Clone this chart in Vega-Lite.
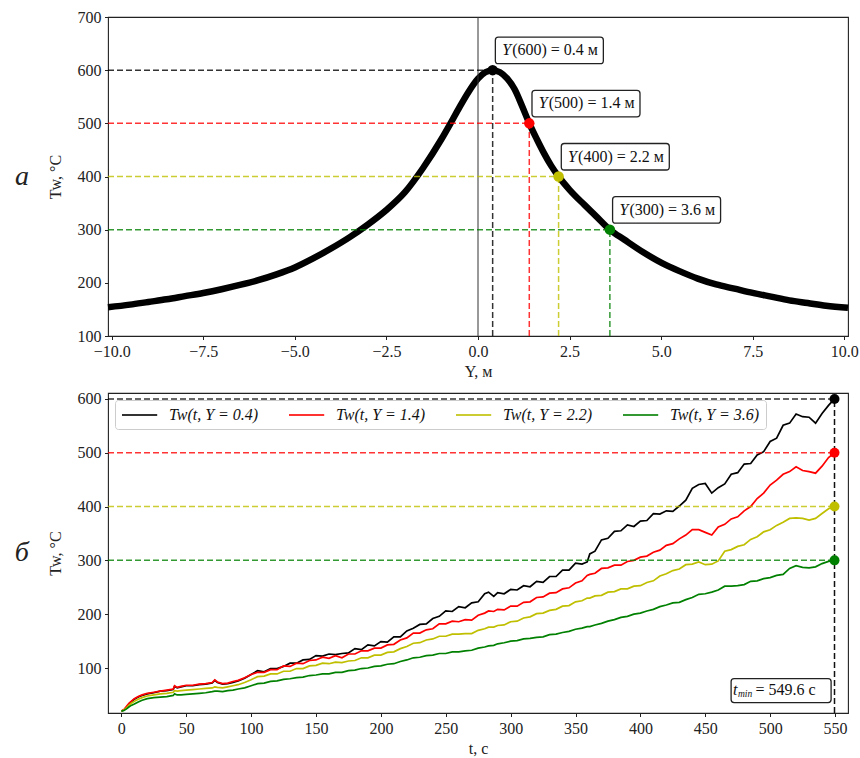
{
  "$schema": "https://vega.github.io/schema/vega-lite/v6.json",
  "background": "white",
  "padding": {"left": 14, "top": 8, "right": 0, "bottom": 0},
  "config": {
    "font": "Liberation Serif",
    "view": {"stroke": "#222", "strokeWidth": 1.1},
    "axis": {"grid": false, "domain": false, "tickColor": "#222", "tickSize": 3.5, "tickWidth": 1,
      "labelFont": "Liberation Serif", "labelFontSize": 16, "labelColor": "#222", "labelPadding": 3.5,
      "titleFont": "Liberation Serif", "titleFontSize": 16, "titleFontWeight": "normal", "titleColor": "#222"},
    "concat": {"spacing": 10}
  },
  "datasets": {
    "curve": [
      {"Y": -10.1, "T": 154}, {"Y": -9.5, "T": 159}, {"Y": -9, "T": 164}, {"Y": -8.5, "T": 169}, {"Y": -8, "T": 175},
      {"Y": -7.5, "T": 181}, {"Y": -7, "T": 188}, {"Y": -6.5, "T": 196}, {"Y": -6, "T": 205}, {"Y": -5.5, "T": 216},
      {"Y": -5, "T": 229}, {"Y": -4.5, "T": 246}, {"Y": -4, "T": 265}, {"Y": -3.5, "T": 286}, {"Y": -3, "T": 310},
      {"Y": -2.5, "T": 337}, {"Y": -2, "T": 370}, {"Y": -1.5, "T": 416}, {"Y": -1, "T": 470}, {"Y": -0.75, "T": 500},
      {"Y": -0.5, "T": 531}, {"Y": -0.25, "T": 560}, {"Y": 0, "T": 584}, {"Y": 0.2, "T": 596}, {"Y": 0.4, "T": 600},
      {"Y": 0.6, "T": 596}, {"Y": 0.8, "T": 584}, {"Y": 1.0, "T": 564}, {"Y": 1.2, "T": 533}, {"Y": 1.4, "T": 500},
      {"Y": 1.6, "T": 471}, {"Y": 1.8, "T": 444}, {"Y": 2.0, "T": 420}, {"Y": 2.2, "T": 400}, {"Y": 2.5, "T": 375},
      {"Y": 2.9, "T": 347}, {"Y": 3.2, "T": 327}, {"Y": 3.6, "T": 300}, {"Y": 4, "T": 281}, {"Y": 4.5, "T": 258},
      {"Y": 5, "T": 238}, {"Y": 5.5, "T": 222}, {"Y": 6, "T": 208}, {"Y": 6.5, "T": 197}, {"Y": 7, "T": 189},
      {"Y": 7.5, "T": 181}, {"Y": 8, "T": 174}, {"Y": 8.5, "T": 167}, {"Y": 9, "T": 162}, {"Y": 9.5, "T": 157},
      {"Y": 10.1, "T": 153}
    ],
    "ann": [
      {"s": "Y04", "Y": 0.4, "T": 600, "lab": "(600) = 0.4 м"},
      {"s": "Y14", "Y": 1.4, "T": 500, "lab": "(500) = 1.4 м"},
      {"s": "Y22", "Y": 2.2, "T": 400, "lab": "(400) = 2.2 м"},
      {"s": "Y36", "Y": 3.6, "T": 300, "lab": "(300) = 3.6 м"}
    ],
    "series": [
      {"t": 0, "Y04": 20, "Y14": 20, "Y22": 20, "Y36": 20},
      {"t": 2, "Y04": 22, "Y14": 23, "Y22": 22, "Y36": 21},
      {"t": 4, "Y04": 27, "Y14": 29, "Y22": 26, "Y36": 24},
      {"t": 6, "Y04": 33, "Y14": 35, "Y22": 31, "Y36": 28},
      {"t": 8, "Y04": 38, "Y14": 39, "Y22": 35, "Y36": 31},
      {"t": 10, "Y04": 42, "Y14": 43, "Y22": 38, "Y36": 33},
      {"t": 13, "Y04": 46, "Y14": 47, "Y22": 42, "Y36": 37},
      {"t": 16, "Y04": 49, "Y14": 50, "Y22": 45, "Y36": 40},
      {"t": 20, "Y04": 52, "Y14": 53, "Y22": 48, "Y36": 43},
      {"t": 25, "Y04": 54, "Y14": 55, "Y22": 50, "Y36": 45},
      {"t": 30, "Y04": 57, "Y14": 57, "Y22": 52, "Y36": 46},
      {"t": 35, "Y04": 58, "Y14": 59, "Y22": 53, "Y36": 47},
      {"t": 40, "Y04": 60, "Y14": 61, "Y22": 55, "Y36": 49},
      {"t": 41, "Y04": 66, "Y14": 67, "Y22": 58, "Y36": 52},
      {"t": 43, "Y04": 63, "Y14": 64, "Y22": 57, "Y36": 50},
      {"t": 46, "Y04": 65, "Y14": 66, "Y22": 58, "Y36": 50},
      {"t": 50, "Y04": 67, "Y14": 68, "Y22": 59, "Y36": 51},
      {"t": 55, "Y04": 67, "Y14": 68, "Y22": 60, "Y36": 52},
      {"t": 60, "Y04": 69, "Y14": 70, "Y22": 61, "Y36": 53},
      {"t": 65, "Y04": 70, "Y14": 71, "Y22": 62, "Y36": 54},
      {"t": 70, "Y04": 72, "Y14": 73, "Y22": 63, "Y36": 56},
      {"t": 72, "Y04": 77, "Y14": 78, "Y22": 65, "Y36": 57},
      {"t": 74, "Y04": 73, "Y14": 74, "Y22": 64, "Y36": 57},
      {"t": 78, "Y04": 70, "Y14": 71, "Y22": 63, "Y36": 56},
      {"t": 82, "Y04": 71, "Y14": 72, "Y22": 65, "Y36": 58},
      {"t": 86, "Y04": 73, "Y14": 75, "Y22": 67, "Y36": 59},
      {"t": 90, "Y04": 76, "Y14": 77, "Y22": 69, "Y36": 61},
      {"t": 95, "Y04": 81, "Y14": 82, "Y22": 73, "Y36": 63},
      {"t": 100, "Y04": 88, "Y14": 88, "Y22": 78, "Y36": 67},
      {"t": 105, "Y04": 95, "Y14": 92, "Y22": 84, "Y36": 71},
      {"t": 110, "Y04": 93, "Y14": 92, "Y22": 85, "Y36": 72},
      {"t": 115, "Y04": 99, "Y14": 97, "Y22": 89, "Y36": 75},
      {"t": 120, "Y04": 99, "Y14": 97, "Y22": 89, "Y36": 76},
      {"t": 125, "Y04": 103, "Y14": 104, "Y22": 94, "Y36": 79},
      {"t": 130, "Y04": 109, "Y14": 103, "Y22": 94, "Y36": 80},
      {"t": 135, "Y04": 109, "Y14": 109, "Y22": 99, "Y36": 82},
      {"t": 140, "Y04": 115, "Y14": 108, "Y22": 99, "Y36": 83},
      {"t": 145, "Y04": 116, "Y14": 114, "Y22": 104, "Y36": 86},
      {"t": 150, "Y04": 123, "Y14": 115, "Y22": 105, "Y36": 87},
      {"t": 155, "Y04": 122, "Y14": 120, "Y22": 109, "Y36": 89},
      {"t": 160, "Y04": 126, "Y14": 118, "Y22": 108, "Y36": 89},
      {"t": 165, "Y04": 125, "Y14": 123, "Y22": 111, "Y36": 92},
      {"t": 170, "Y04": 127, "Y14": 119, "Y22": 110, "Y36": 92},
      {"t": 175, "Y04": 128, "Y14": 126, "Y22": 113, "Y36": 95},
      {"t": 180, "Y04": 136, "Y14": 126, "Y22": 114, "Y36": 96},
      {"t": 185, "Y04": 134, "Y14": 132, "Y22": 119, "Y36": 99},
      {"t": 190, "Y04": 143, "Y14": 132, "Y22": 119, "Y36": 100},
      {"t": 195, "Y04": 141, "Y14": 137, "Y22": 124, "Y36": 103},
      {"t": 200, "Y04": 149, "Y14": 137, "Y22": 124, "Y36": 104},
      {"t": 205, "Y04": 148, "Y14": 143, "Y22": 129, "Y36": 107},
      {"t": 210, "Y04": 158, "Y14": 144, "Y22": 130, "Y36": 108},
      {"t": 215, "Y04": 158, "Y14": 152, "Y22": 136, "Y36": 112},
      {"t": 220, "Y04": 169, "Y14": 156, "Y22": 140, "Y36": 115},
      {"t": 225, "Y04": 174, "Y14": 165, "Y22": 146, "Y36": 119},
      {"t": 230, "Y04": 181, "Y14": 165, "Y22": 147, "Y36": 120},
      {"t": 235, "Y04": 182, "Y14": 171, "Y22": 152, "Y36": 123},
      {"t": 240, "Y04": 192, "Y14": 173, "Y22": 154, "Y36": 124},
      {"t": 245, "Y04": 196, "Y14": 182, "Y22": 159, "Y36": 127},
      {"t": 250, "Y04": 206, "Y14": 182, "Y22": 159, "Y36": 127},
      {"t": 255, "Y04": 205, "Y14": 187, "Y22": 163, "Y36": 130},
      {"t": 260, "Y04": 214, "Y14": 186, "Y22": 163, "Y36": 130},
      {"t": 265, "Y04": 212, "Y14": 190, "Y22": 164, "Y36": 132},
      {"t": 270, "Y04": 221, "Y14": 189, "Y22": 164, "Y36": 133},
      {"t": 275, "Y04": 223, "Y14": 198, "Y22": 170, "Y36": 137},
      {"t": 280, "Y04": 238, "Y14": 202, "Y22": 173, "Y36": 139},
      {"t": 283, "Y04": 241, "Y14": 206, "Y22": 176, "Y36": 141},
      {"t": 287, "Y04": 233, "Y14": 205, "Y22": 176, "Y36": 142},
      {"t": 290, "Y04": 240, "Y14": 209, "Y22": 179, "Y36": 145},
      {"t": 295, "Y04": 238, "Y14": 208, "Y22": 180, "Y36": 147},
      {"t": 300, "Y04": 246, "Y14": 215, "Y22": 186, "Y36": 150},
      {"t": 305, "Y04": 245, "Y14": 215, "Y22": 187, "Y36": 151},
      {"t": 310, "Y04": 253, "Y14": 222, "Y22": 193, "Y36": 154},
      {"t": 315, "Y04": 251, "Y14": 223, "Y22": 195, "Y36": 155},
      {"t": 320, "Y04": 261, "Y14": 231, "Y22": 201, "Y36": 157},
      {"t": 325, "Y04": 259, "Y14": 232, "Y22": 202, "Y36": 158},
      {"t": 330, "Y04": 270, "Y14": 239, "Y22": 207, "Y36": 162},
      {"t": 335, "Y04": 270, "Y14": 240, "Y22": 209, "Y36": 163},
      {"t": 340, "Y04": 282, "Y14": 247, "Y22": 215, "Y36": 166},
      {"t": 345, "Y04": 282, "Y14": 249, "Y22": 216, "Y36": 168},
      {"t": 350, "Y04": 295, "Y14": 258, "Y22": 223, "Y36": 172},
      {"t": 355, "Y04": 293, "Y14": 262, "Y22": 225, "Y36": 174},
      {"t": 359, "Y04": 297, "Y14": 272, "Y22": 230, "Y36": 177},
      {"t": 361, "Y04": 312, "Y14": 274, "Y22": 230, "Y36": 177},
      {"t": 365, "Y04": 317, "Y14": 276, "Y22": 234, "Y36": 180},
      {"t": 370, "Y04": 338, "Y14": 285, "Y22": 235, "Y36": 183},
      {"t": 375, "Y04": 341, "Y14": 286, "Y22": 241, "Y36": 187},
      {"t": 380, "Y04": 354, "Y14": 291, "Y22": 242, "Y36": 190},
      {"t": 385, "Y04": 355, "Y14": 291, "Y22": 247, "Y36": 194},
      {"t": 390, "Y04": 366, "Y14": 298, "Y22": 247, "Y36": 196},
      {"t": 395, "Y04": 363, "Y14": 300, "Y22": 252, "Y36": 200},
      {"t": 400, "Y04": 373, "Y14": 306, "Y22": 253, "Y36": 202},
      {"t": 405, "Y04": 374, "Y14": 308, "Y22": 259, "Y36": 206},
      {"t": 410, "Y04": 387, "Y14": 315, "Y22": 262, "Y36": 209},
      {"t": 415, "Y04": 386, "Y14": 319, "Y22": 271, "Y36": 214},
      {"t": 420, "Y04": 392, "Y14": 328, "Y22": 275, "Y36": 217},
      {"t": 425, "Y04": 391, "Y14": 331, "Y22": 281, "Y36": 221},
      {"t": 430, "Y04": 401, "Y14": 340, "Y22": 284, "Y36": 222},
      {"t": 435, "Y04": 412, "Y14": 347, "Y22": 292, "Y36": 227},
      {"t": 440, "Y04": 434, "Y14": 357, "Y22": 293, "Y36": 231},
      {"t": 445, "Y04": 441, "Y14": 357, "Y22": 297, "Y36": 237},
      {"t": 450, "Y04": 443, "Y14": 352, "Y22": 292, "Y36": 238},
      {"t": 455, "Y04": 425, "Y14": 347, "Y22": 293, "Y36": 241},
      {"t": 460, "Y04": 435, "Y14": 362, "Y22": 299, "Y36": 245},
      {"t": 465, "Y04": 442, "Y14": 367, "Y22": 317, "Y36": 252},
      {"t": 470, "Y04": 460, "Y14": 377, "Y22": 320, "Y36": 252},
      {"t": 475, "Y04": 463, "Y14": 381, "Y22": 326, "Y36": 253},
      {"t": 480, "Y04": 479, "Y14": 392, "Y22": 329, "Y36": 255},
      {"t": 485, "Y04": 480, "Y14": 400, "Y22": 339, "Y36": 261},
      {"t": 490, "Y04": 496, "Y14": 415, "Y22": 344, "Y36": 262},
      {"t": 495, "Y04": 502, "Y14": 425, "Y22": 353, "Y36": 266},
      {"t": 500, "Y04": 521, "Y14": 440, "Y22": 357, "Y36": 268},
      {"t": 505, "Y04": 527, "Y14": 449, "Y22": 365, "Y36": 272},
      {"t": 510, "Y04": 551, "Y14": 460, "Y22": 371, "Y36": 274},
      {"t": 515, "Y04": 555, "Y14": 465, "Y22": 378, "Y36": 285},
      {"t": 520, "Y04": 572, "Y14": 474, "Y22": 379, "Y36": 290},
      {"t": 525, "Y04": 567, "Y14": 467, "Y22": 378, "Y36": 287},
      {"t": 530, "Y04": 566, "Y14": 465, "Y22": 375, "Y36": 286},
      {"t": 535, "Y04": 555, "Y14": 462, "Y22": 378, "Y36": 288},
      {"t": 540, "Y04": 573, "Y14": 475, "Y22": 387, "Y36": 294},
      {"t": 545, "Y04": 588, "Y14": 491, "Y22": 396, "Y36": 298},
      {"t": 549.6, "Y04": 600, "Y14": 500, "Y22": 400, "Y36": 300}
    ],
    "lev": [
      {"s": "Y04", "T": 600, "t": 549.6}, {"s": "Y14", "T": 500, "t": 549.6}, {"s": "Y22", "T": 400, "t": 549.6}, {"s": "Y36", "T": 300, "t": 549.6}
    ],
    "tmin": [{"t": 549.6, "T": 59}]
  },
  "resolve": {"scale": {"color": "independent", "x": "independent", "y": "independent"}},
  "vconcat": [
    {
      "width": 740,
      "height": 319,
      "title": {"text": "а", "orient": "left", "angle": 0, "anchor": "middle", "align": "right", "baseline": "middle",
        "fontSize": 28, "fontStyle": "italic", "fontWeight": "normal", "font": "Liberation Serif", "color": "#222", "offset": 4},
      "layer": [
        {
          "data": {"name": "curve"},
          "mark": {"type": "line", "color": "black", "strokeWidth": 6.5, "interpolate": "monotone"},
          "encoding": {
            "x": {"field": "Y", "type": "quantitative",
              "scale": {"domain": [-10.1, 10.1], "nice": false, "zero": false},
              "axis": {"values": [-10, -7.5, -5, -2.5, 0, 2.5, 5, 7.5, 10], "format": ".1f", "title": "Y, м", "titlePadding": 4}},
            "y": {"field": "T", "type": "quantitative",
              "scale": {"domain": [100, 700], "nice": false, "zero": false},
              "axis": {"values": [100, 200, 300, 400, 500, 600, 700], "title": "Tw, °C", "titlePadding": 14}}
          }
        },
        {
          "data": {"values": [{"Y": 0}]},
          "mark": {"type": "rule", "color": "#333", "strokeWidth": 1},
          "encoding": {"x": {"field": "Y", "type": "quantitative"}}
        },
        {
          "data": {"name": "ann"},
          "transform": [{"calculate": "-10.1", "as": "Y0"}],
          "mark": {"type": "rule", "strokeDash": [6, 3], "strokeWidth": 1.5, "opacity": 0.8},
          "encoding": {
            "x": {"field": "Y0", "type": "quantitative"}, "x2": {"field": "Y"},
            "y": {"field": "T", "type": "quantitative"},
            "color": {"field": "s", "type": "nominal", "legend": null,
              "scale": {"domain": ["Y04", "Y14", "Y22", "Y36"], "range": ["#000000", "#ff0000", "#bfbf00", "#008000"]}}
          }
        },
        {
          "data": {"name": "ann"},
          "transform": [{"calculate": "100", "as": "T0"}],
          "mark": {"type": "rule", "strokeDash": [6, 3], "strokeWidth": 1.5, "opacity": 0.8},
          "encoding": {
            "x": {"field": "Y", "type": "quantitative"},
            "y": {"field": "T0", "type": "quantitative"}, "y2": {"field": "T"},
            "color": {"field": "s", "type": "nominal", "legend": null}
          }
        },
        {
          "data": {"name": "ann"},
          "mark": {"type": "point", "filled": true, "size": 110, "opacity": 1},
          "encoding": {
            "x": {"field": "Y", "type": "quantitative"},
            "y": {"field": "T", "type": "quantitative"},
            "color": {"field": "s", "type": "nominal", "legend": null}
          }
        },
        {
          "data": {"name": "ann"},
          "mark": {"type": "point", "size": 400, "opacity": 1, "fill": "white", "fillOpacity": 1, "stroke": "#222", "strokeWidth": 1.3,
            "shape": "M0.57,-3.3 L10.77,-3.3 Q11.07,-3.3 11.07,-3.0 L11.07,-0.95 Q11.07,-0.65 10.77,-0.65 L0.57,-0.65 Q0.27,-0.65 0.27,-0.95 L0.27,-3.0 Q0.27,-3.3 0.57,-3.3 Z"},
          "encoding": {
            "x": {"field": "Y", "type": "quantitative"},
            "y": {"field": "T", "type": "quantitative"}
          }
        },
        {
          "data": {"name": "ann"},
          "mark": {"type": "text", "text": "Y", "font": "Liberation Serif", "fontSize": 16, "fontStyle": "italic", "color": "#111",
            "align": "left", "baseline": "middle", "dx": 9.5, "dy": -20},
          "encoding": {
            "x": {"field": "Y", "type": "quantitative"},
            "y": {"field": "T", "type": "quantitative"}
          }
        },
        {
          "data": {"name": "ann"},
          "mark": {"type": "text", "font": "Liberation Serif", "fontSize": 16, "color": "#111",
            "align": "left", "baseline": "middle", "dx": 19.5, "dy": -20},
          "encoding": {
            "x": {"field": "Y", "type": "quantitative"},
            "y": {"field": "T", "type": "quantitative"},
            "text": {"field": "lab", "type": "nominal"}
          }
        }
      ]
    },
    {
      "width": 740,
      "height": 320,
      "title": {"text": "б", "orient": "left", "angle": 0, "anchor": "middle", "align": "right", "baseline": "middle",
        "fontSize": 28, "fontStyle": "italic", "fontWeight": "normal", "font": "Liberation Serif", "color": "#222", "offset": 4},
      "layer": [
        {
          "data": {"name": "series"},
          "transform": [{"fold": ["Y04", "Y14", "Y22", "Y36"], "as": ["s", "T"]}],
          "mark": {"type": "line", "strokeWidth": 1.7},
          "encoding": {
            "x": {"field": "t", "type": "quantitative",
              "scale": {"domain": [-10.3, 560], "nice": false, "zero": false},
              "axis": {"values": [0, 50, 100, 150, 200, 250, 300, 350, 400, 450, 500, 550], "title": "t, с", "titlePadding": 4}},
            "y": {"field": "T", "type": "quantitative",
              "scale": {"domain": [16.4, 611], "nice": false, "zero": false},
              "axis": {"values": [100, 200, 300, 400, 500, 600], "title": "Tw, °C", "titlePadding": 14}},
            "color": {"field": "s", "type": "nominal",
              "scale": {"domain": ["Y04", "Y14", "Y22", "Y36"], "range": ["#000000", "#ff0000", "#bfbf00", "#008000"]},
              "legend": {"orient": "top-left", "offset": 6.5, "direction": "horizontal", "columns": 4, "title": null,
                "symbolType": "M-1,0L3.4,0", "symbolSize": 256, "symbolStrokeWidth": 2, "symbolOpacity": 1,
                "labelFont": "Liberation Serif", "labelFontSize": 16, "labelFontStyle": "italic", "labelColor": "#111",
                "labelOffset": 30, "columnPadding": 26, "padding": 6, "fillColor": "white", "strokeColor": "#cccccc", "cornerRadius": 3,
                "labelExpr": "datum.label == 'Y04' ? 'Tw(t, Y = 0.4)' : datum.label == 'Y14' ? 'Tw(t, Y = 1.4)' : datum.label == 'Y22' ? 'Tw(t, Y = 2.2)' : 'Tw(t, Y = 3.6)'"}}
          }
        },
        {
          "data": {"name": "lev"},
          "transform": [{"calculate": "-10.3", "as": "t0"}],
          "mark": {"type": "rule", "strokeDash": [6, 3], "strokeWidth": 1.5, "opacity": 0.8},
          "encoding": {
            "x": {"field": "t0", "type": "quantitative"}, "x2": {"field": "t"},
            "y": {"field": "T", "type": "quantitative"},
            "color": {"field": "s", "type": "nominal"}
          }
        },
        {
          "data": {"values": [{"t": 549.6, "T": 600, "T0": 16.4}]},
          "mark": {"type": "rule", "strokeDash": [6, 3], "strokeWidth": 1.5, "color": "#111"},
          "encoding": {"x": {"field": "t", "type": "quantitative"}, "y": {"field": "T0", "type": "quantitative"}, "y2": {"field": "T"}}
        },
        {
          "data": {"name": "lev"},
          "mark": {"type": "point", "filled": true, "size": 100, "opacity": 1},
          "encoding": {
            "x": {"field": "t", "type": "quantitative"},
            "y": {"field": "T", "type": "quantitative"},
            "color": {"field": "s", "type": "nominal"}
          }
        },
        {
          "data": {"name": "tmin"},
          "mark": {"type": "point", "size": 400, "opacity": 1, "fill": "white", "fillOpacity": 1, "stroke": "#222", "strokeWidth": 1.3,
            "shape": "M-10.04,-1.15 L-0.64,-1.15 Q-0.34,-1.15 -0.34,-0.85 L-0.34,0.95 Q-0.34,1.25 -0.64,1.25 L-10.04,1.25 Q-10.34,1.25 -10.34,0.95 L-10.34,-0.85 Q-10.34,-1.15 -10.04,-1.15 Z"},
          "encoding": {"x": {"field": "t", "type": "quantitative"}, "y": {"field": "T", "type": "quantitative"}}
        },
        {
          "data": {"name": "tmin"},
          "mark": {"type": "text", "text": "t", "font": "Liberation Serif", "fontSize": 16, "fontStyle": "italic", "color": "#111",
            "align": "left", "baseline": "middle", "dx": -101.5, "dy": 0},
          "encoding": {"x": {"field": "t", "type": "quantitative"}, "y": {"field": "T", "type": "quantitative"}}
        },
        {
          "data": {"name": "tmin"},
          "mark": {"type": "text", "text": "min", "font": "Liberation Serif", "fontSize": 9.5, "fontStyle": "italic", "color": "#111",
            "align": "left", "baseline": "middle", "dx": -96.6, "dy": 4},
          "encoding": {"x": {"field": "t", "type": "quantitative"}, "y": {"field": "T", "type": "quantitative"}}
        },
        {
          "data": {"name": "tmin"},
          "mark": {"type": "text", "text": "= 549.6 с", "font": "Liberation Serif", "fontSize": 16, "color": "#111",
            "align": "left", "baseline": "middle", "dx": -79, "dy": 0},
          "encoding": {"x": {"field": "t", "type": "quantitative"}, "y": {"field": "T", "type": "quantitative"}}
        }
      ]
    }
  ]
}
